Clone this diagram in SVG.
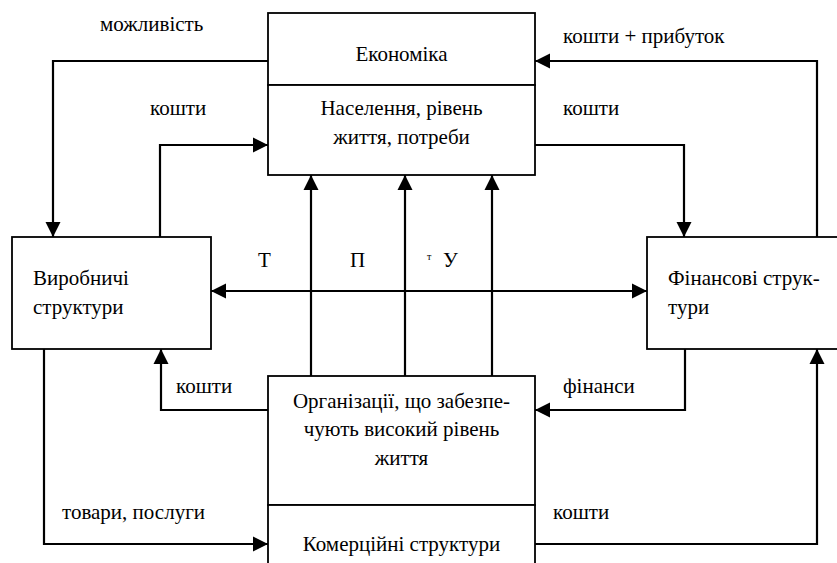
<svg xmlns="http://www.w3.org/2000/svg" width="837" height="563" viewBox="0 0 837 563" font-family="Times New Roman, Liberation Serif, serif">
<defs>
<marker id="ah" markerUnits="userSpaceOnUse" markerWidth="16" markerHeight="16" viewBox="0 0 16 16" refX="15" refY="8" orient="auto-start-reverse">
<path d="M0,0.5 L15,8 L0,15.5 Z" fill="#000"/>
</marker>
</defs>
<rect width="837" height="563" fill="#fff"/>
<g id="connectors" fill="none" stroke="#000" stroke-width="2.2">
<path d="M268,61 H53 V237" marker-end="url(#ah)"/>
<path d="M160,237 V145 H268" marker-end="url(#ah)"/>
<path d="M817,237 V61 H535" marker-end="url(#ah)"/>
<path d="M535,145 H684 V237" marker-end="url(#ah)"/>
<path d="M211,291 H647" marker-start="url(#ah)" marker-end="url(#ah)"/>
<path d="M311,376 V175" marker-end="url(#ah)"/>
<path d="M405,376 V175" marker-end="url(#ah)"/>
<path d="M492,376 V175" marker-end="url(#ah)"/>
<path d="M268,410 H161 V349" marker-end="url(#ah)"/>
<path d="M685,349 V410 H535" marker-end="url(#ah)"/>
<path d="M44,349 V544 H268" marker-end="url(#ah)"/>
<path d="M535,544 H817 V349" marker-end="url(#ah)"/>
</g>
<g id="economy">
<rect x="268" y="13" width="267" height="72" fill="#fff" stroke="#000" stroke-width="1.8"/>
<text x="401.5" y="61" text-anchor="middle" font-family="Times New Roman" font-size="21">Економіка</text>
</g>
<g id="population">
<rect x="268" y="85" width="267" height="90" fill="#fff" stroke="#000" stroke-width="1.8"/>
<text x="401.5" y="115" text-anchor="middle" font-family="Times New Roman" font-size="21">Населення, рівень</text>
<text x="401.5" y="144" text-anchor="middle" font-family="Times New Roman" font-size="21">життя, потреби</text>
</g>
<g id="production">
<rect x="12" y="237" width="199" height="112" fill="#fff" stroke="#000" stroke-width="1.8"/>
<text x="33" y="285" font-family="Times New Roman" font-size="21">Виробничі</text>
<text x="33" y="314" font-family="Times New Roman" font-size="21">структури</text>
</g>
<g id="finance">
<rect x="647" y="237" width="210" height="112" fill="#fff" stroke="#000" stroke-width="1.8"/>
<text x="668" y="285" font-family="Times New Roman" font-size="21">Фінансові струк-</text>
<text x="668" y="314" font-family="Times New Roman" font-size="21">тури</text>
</g>
<g id="organizations">
<rect x="268" y="376" width="267" height="129" fill="#fff" stroke="#000" stroke-width="1.8"/>
<text x="401.5" y="408" text-anchor="middle" font-family="Times New Roman" font-size="21">Організації, що забезпе-</text>
<text x="401.5" y="436" text-anchor="middle" font-family="Times New Roman" font-size="21">чують високий рівень</text>
<text x="401.5" y="465" text-anchor="middle" font-family="Times New Roman" font-size="21">життя</text>
</g>
<g id="commercial">
<rect x="268" y="505" width="267" height="70" fill="#fff" stroke="#000" stroke-width="1.8"/>
<text x="401.5" y="551" text-anchor="middle" font-family="Times New Roman" font-size="21">Комерційні структури</text>
</g>
<g id="labels">
<text x="100" y="31" font-family="Times New Roman" font-size="21">можливість</text>
<text x="150" y="115" font-family="Times New Roman" font-size="21">кошти</text>
<text x="563" y="43" font-family="Times New Roman" font-size="21">кошти + прибуток</text>
<text x="563" y="115" font-family="Times New Roman" font-size="21">кошти</text>
<text x="258" y="267" font-family="Times New Roman" font-size="21">Т</text>
<text x="350" y="267" font-family="Times New Roman" font-size="21">П</text>
<text x="427" y="260" font-family="Times New Roman" font-size="10">т</text>
<text x="443" y="267" font-family="Times New Roman" font-size="21">У</text>
<text x="176" y="393" font-family="Times New Roman" font-size="21">кошти</text>
<text x="563" y="393" font-family="Times New Roman" font-size="21">фінанси</text>
<text x="62" y="519" font-family="Times New Roman" font-size="21">товари, послуги</text>
<text x="553" y="519" font-family="Times New Roman" font-size="21">кошти</text>
</g>
</svg>
